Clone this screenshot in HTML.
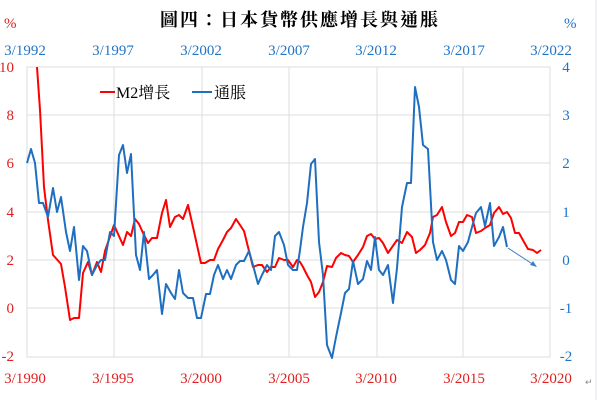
<!DOCTYPE html>
<html><head><meta charset="utf-8"><style>
html,body{margin:0;padding:0;background:#fff;width:600px;height:400px;overflow:hidden}
</style></head><body>
<svg width="600" height="400" viewBox="0 0 600 400" xmlns="http://www.w3.org/2000/svg" font-family="'Liberation Serif','Noto Serif CJK SC',serif">
<rect width="600" height="400" fill="#fff"/>
<line x1="596" y1="0" x2="596" y2="400" stroke="#dde6f0" stroke-width="1"/>
<text x="300" y="26" text-anchor="middle" font-size="18" font-weight="bold" fill="#000" font-family="'Liberation Serif','Noto Serif CJK TC',serif" letter-spacing="2">圖四：日本貨幣供應增長與通脹</text>
<text x="4" y="28" font-size="15" fill="#e02020">%</text>
<text x="564" y="28" font-size="15" fill="#1f74c6">%</text>
<g font-size="15" fill="#1f74c6" text-anchor="middle">
<text x="25" y="55">3/1992</text><text x="113" y="55">3/1997</text><text x="201" y="55">3/2002</text><text x="289" y="55">3/2007</text><text x="376" y="55">3/2012</text><text x="464" y="55">3/2017</text><text x="551" y="55">3/2022</text>
</g>
<g stroke="#dcdcdc" stroke-width="1">
<line x1="27" y1="115" x2="550" y2="115"/><line x1="27" y1="163" x2="550" y2="163"/><line x1="27" y1="212" x2="550" y2="212"/><line x1="27" y1="260" x2="550" y2="260"/><line x1="27" y1="308" x2="550" y2="308"/>
<line x1="114" y1="67" x2="114" y2="357"/><line x1="202" y1="67" x2="202" y2="357"/><line x1="289" y1="67" x2="289" y2="357"/><line x1="377" y1="67" x2="377" y2="357"/><line x1="463" y1="67" x2="463" y2="357"/>
<rect x="27" y="67" width="523" height="290" fill="none"/>
</g>
<g font-size="15" fill="#e02020" text-anchor="end">
<text x="14" y="72">10</text><text x="14" y="120">8</text><text x="14" y="168">6</text><text x="14" y="217">4</text><text x="14" y="265">2</text><text x="14" y="313">0</text><text x="14" y="361">-2</text>
</g>
<g font-size="15" fill="#1f74c6" text-anchor="middle">
<text x="566" y="72">4</text><text x="566" y="120">3</text><text x="566" y="168">2</text><text x="566" y="217">1</text><text x="566" y="265">0</text><text x="566" y="313">-1</text><text x="566" y="361">-2</text>
</g>
<g font-size="15" fill="#e02020" text-anchor="middle">
<text x="25" y="383">3/1990</text><text x="113" y="383">3/1995</text><text x="201" y="383">3/2000</text><text x="289" y="383">3/2005</text><text x="376" y="383">3/2010</text><text x="464" y="383">3/2015</text><text x="551" y="383">3/2020</text>
</g>
<text x="585" y="385" font-size="9" fill="#888">↵</text>
<polyline fill="none" stroke="#ff0000" stroke-width="2" stroke-linejoin="round" points="37,67 40,110 44,187 48,220 53,255 61,264 65,287 70,320 74,318 79,318 83,273 88,262 92,275 97,262 101,272 105,251 114,225 123,245 127,232 131,236 135,219 139,224 143,233 148,243 152,238 157,238 162,213 166,200 170,227 175,217 179,215 183,219 188,205 193,227 201,263 205,263 210,260 214,260 218,249 223,240 227,232 231,228 236,219 240,225 244,231 253,267 258,265 262,265 267,272 271,267 275,267 279,258 284,260 288,260 293,267 297,260 300,262 303,267 307,275 311,282 315,297 319,292 323,282 327,266 332,267 336,258 341,253 345,255 349,256 353,262 358,255 363,247 367,236 371,234 375,239 379,238 383,243 388,253 397,240 402,243 407,232 412,237 416,253 420,250 425,245 430,233 433,217 437,215 442,207 446,222 451,236 455,233 459,222 463,222 467,215 472,217 476,233 481,231 485,228 490,225 494,213 499,207 503,214 507,212 511,218 515,233 519,233 524,242 528,249 533,250 537,253 541,250"/>
<polyline fill="none" stroke="#1f6fc0" stroke-width="2" stroke-linejoin="round" points="27,163 31,149 35,163 39,203 43,203 48,217 53,188 57,212 61,197 66,232 70,251 74,227 79,280 83,246 87,251 92,275 97,265 101,260 105,260 110,232 114,236 119,155 123,145 127,173 131,154 136,255 140,270 144,232 149,279 153,275 157,270 162,314 166,284 171,293 175,299 179,270 183,293 188,298 193,298 197,318 201,318 206,294 210,294 214,275 218,265 223,279 227,270 231,279 236,265 240,261 244,261 249,251 253,265 258,284 262,275 267,265 271,270 275,236 279,232 284,245 288,265 293,270 297,270 300,250 303,227 307,203 311,164 315,159 319,242 323,275 327,345 332,358 336,337 341,313 345,293 349,289 353,261 358,284 363,279 367,261 371,270 375,237 379,270 383,275 388,265 393,303 397,268 402,207 407,183 411,183 415,87 419,107 423,145 428,149 433,242 437,260 442,251 446,260 451,280 455,284 459,246 463,251 468,242 472,227 476,213 481,207 485,226 490,203 494,246 499,237 503,227 507,247"/>
<line x1="508" y1="248" x2="534" y2="265" stroke="#3a80c8" stroke-width="1"/>
<polygon points="537,267 530,265 533,261" fill="#3a80c8"/>
<line x1="100" y1="92" x2="115" y2="92" stroke="#ff0000" stroke-width="2"/>
<text x="116" y="98" font-size="16" fill="#000">M2增長</text>
<line x1="192" y1="92" x2="212" y2="92" stroke="#1f6fc0" stroke-width="2"/>
<text x="214" y="98" font-size="16" fill="#000">通脹</text>
</svg>
</body></html>
